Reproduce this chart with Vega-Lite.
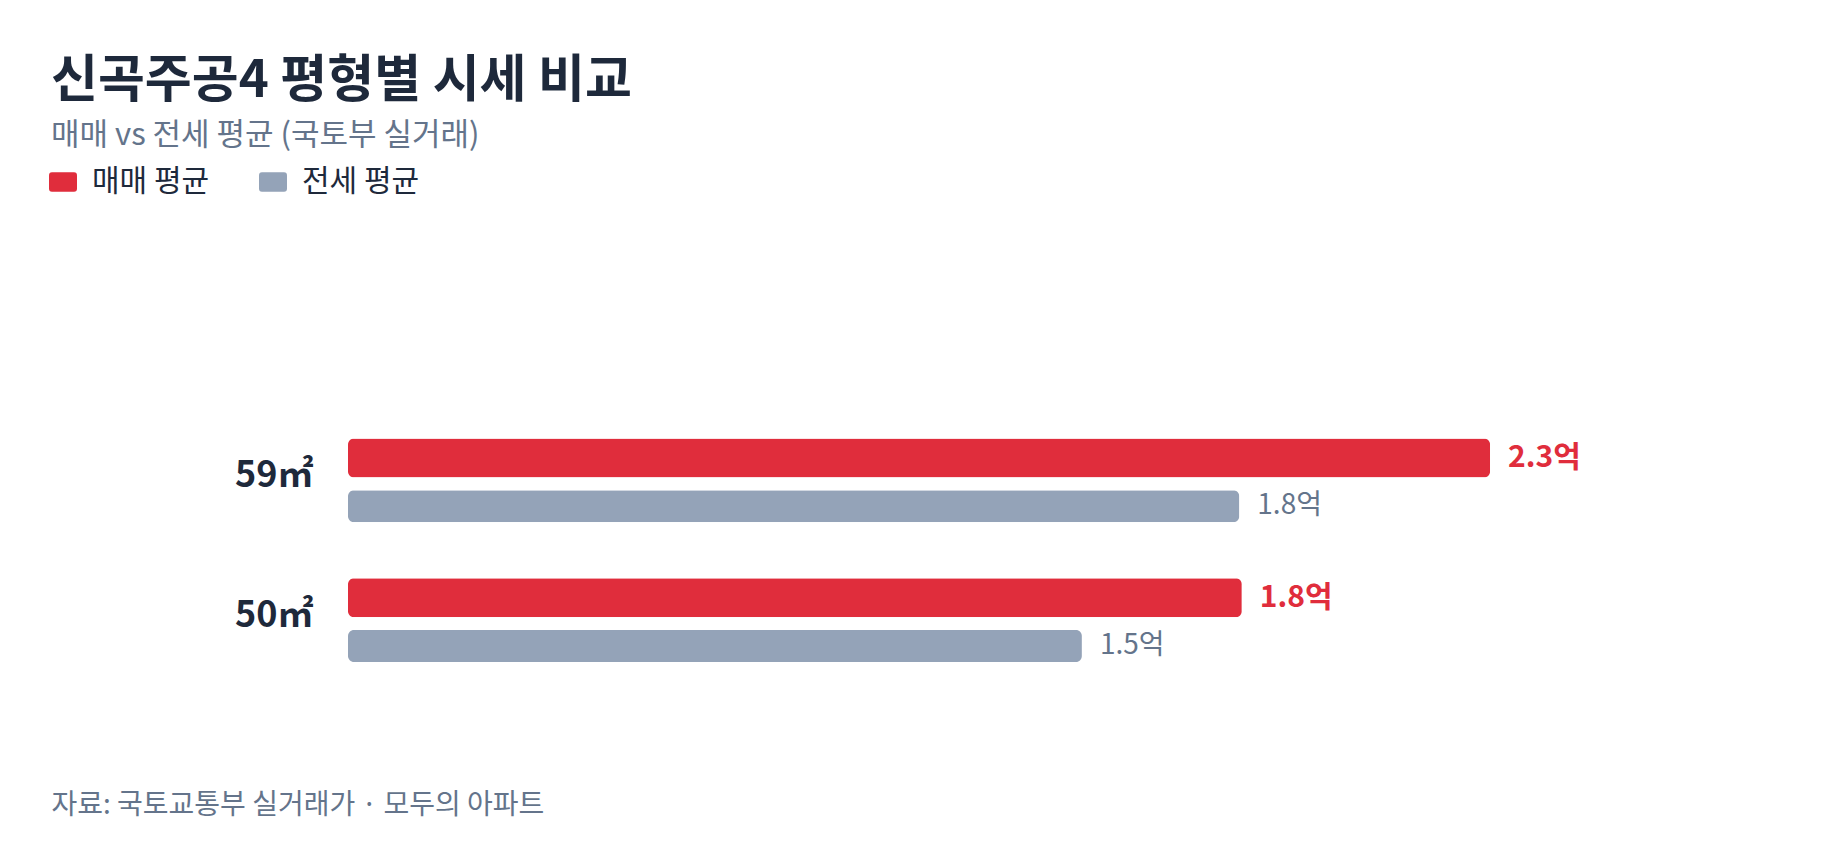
{
  "$schema": "https://vega.github.io/schema/vega-lite/v6.json",
  "autosize": {"type": "none"},
  "width": 1440,
  "height": 376,
  "padding": {"left": 348, "top": 364, "right": 52, "bottom": 108},
  "background": "white",
  "title": {
    "text": "신곡주공4 평형별 시세 비교",
    "subtitle": "매매 vs 전세 평균 (국토부 실거래)",
    "anchor": "start",
    "frame": "group",
    "dx": -297,
    "offset": 15,
    "fontSize": 51,
    "fontWeight": "bold",
    "color": "#1e293b",
    "subtitleFontSize": 31,
    "subtitleColor": "#64748b",
    "subtitlePadding": 13
  },
  "data": {
    "values": [
      {"area": "59㎡", "type": "매매 평균", "value": 2.3, "label": "2.3억"},
      {"area": "59㎡", "type": "전세 평균", "value": 1.795, "label": "1.8억"},
      {"area": "50㎡", "type": "매매 평균", "value": 1.8, "label": "1.8억"},
      {"area": "50㎡", "type": "전세 평균", "value": 1.478, "label": "1.5억"}
    ]
  },
  "encoding": {
    "y": {
      "field": "area",
      "type": "nominal",
      "sort": ["59㎡", "50㎡"],
      "scale": {"paddingInner": 0.311, "paddingOuter": 0.5},
      "axis": {
        "title": null,
        "domain": false,
        "ticks": false,
        "labelPadding": 35,
        "labelFontSize": 36,
        "labelFontWeight": "bold",
        "labelColor": "#1e293b",
        "labelOffset": -6
      }
    },
    "yOffset": {
      "field": "type",
      "type": "nominal",
      "sort": ["매매 평균", "전세 평균"],
      "scale": {"paddingInner": 0, "paddingOuter": 0}
    },
    "x": {
      "field": "value",
      "type": "quantitative",
      "scale": {"domain": [0, 2.9], "nice": false},
      "axis": {
        "domain": false,
        "ticks": false,
        "labels": false,
        "grid": false,
        "title": "자료: 국토교통부 실거래가 · 모두의 아파트",
        "titleX": -297,
        "titleY": 73,
        "titleAlign": "left",
        "titleAnchor": "start",
        "titleBaseline": "alphabetic",
        "titleFontSize": 28,
        "titleFontWeight": "normal",
        "titleColor": "#64748b"
      }
    }
  },
  "layer": [
    {
      "transform": [{"filter": "datum.type === '매매 평균'"}],
      "mark": {"type": "bar", "height": 39, "cornerRadius": 6},
      "encoding": {
        "color": {
          "field": "type",
          "type": "nominal",
          "scale": {"domain": ["매매 평균", "전세 평균"], "range": ["#e02d3c", "#94a3b8"]},
          "legend": {
            "orient": "none",
            "legendX": -300,
            "legendY": -197,
            "direction": "horizontal",
            "title": null,
            "symbolType": "M-0.79,-0.7 L0.79,-0.7 Q1,-0.7 1,-0.49 L1,0.49 Q1,0.7 0.79,0.7 L-0.79,0.7 Q-1,0.7 -1,0.49 L-1,-0.49 Q-1,-0.7 -0.79,-0.7 Z",
            "symbolSize": 784,
            "symbolStrokeWidth": 0,
            "labelFontSize": 30,
            "labelColor": "#1e293b",
            "labelOffset": 14,
            "columnPadding": 48
          }
        }
      }
    },
    {
      "transform": [{"filter": "datum.type === '전세 평균'"}],
      "mark": {"type": "bar", "height": 32, "cornerRadius": 6},
      "encoding": {
        "color": {
          "field": "type",
          "type": "nominal",
          "scale": {"domain": ["매매 평균", "전세 평균"], "range": ["#e02d3c", "#94a3b8"]}
        }
      }
    },
    {
      "transform": [{"filter": "datum.type === '매매 평균'"}],
      "mark": {"type": "text", "align": "left", "baseline": "middle", "dx": 18, "fontSize": 30, "fontWeight": "bold", "color": "#e02d3c"},
      "encoding": {"text": {"field": "label"}}
    },
    {
      "transform": [{"filter": "datum.type === '전세 평균'"}],
      "mark": {"type": "text", "align": "left", "baseline": "middle", "dx": 18, "fontSize": 28, "fontWeight": "normal", "color": "#64748b"},
      "encoding": {"text": {"field": "label"}}
    }
  ],
  "config": {
    "font": "Noto Sans CJK KR",
    "view": {"stroke": null}
  }
}
